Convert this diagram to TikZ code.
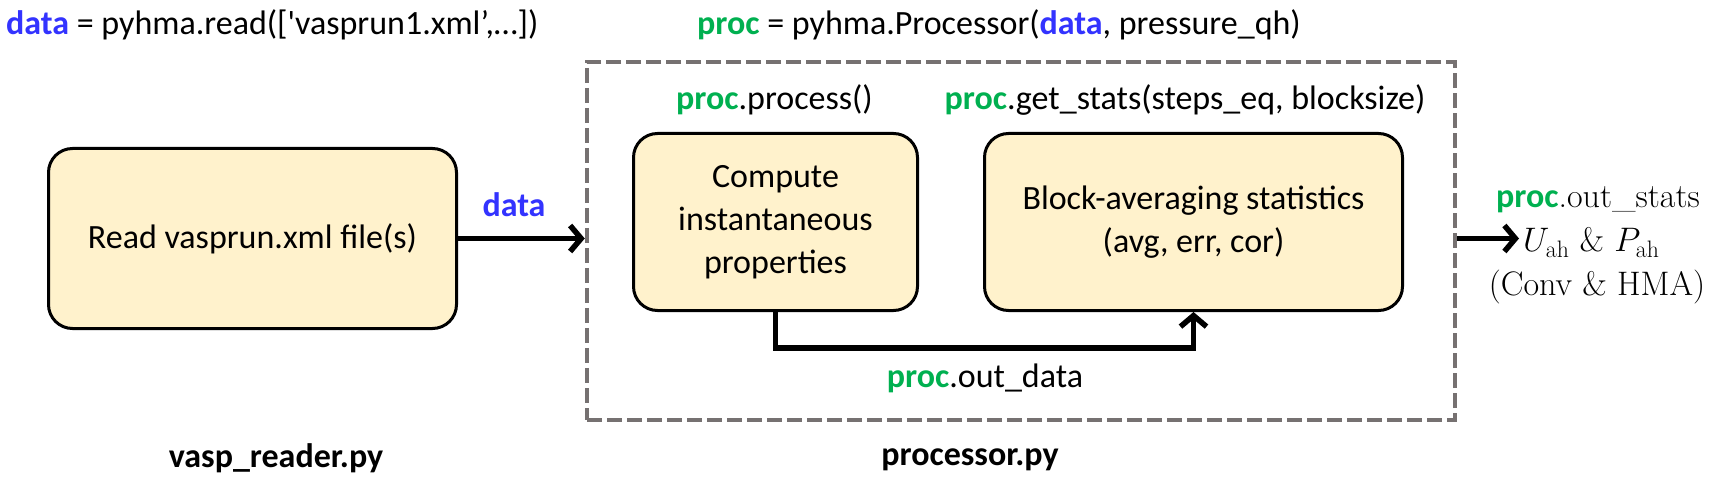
\RequirePackage{fix-cm}
\documentclass[tikz,border=0pt]{standalone}
\usepackage{fontspec}
\setsansfont{Carlito}
\usepackage{amsmath}
\usepackage{tikz}
\usetikzlibrary{arrows.meta,positioning}

\definecolor{procgreen}{RGB}{0,176,80}
\definecolor{datablue}{RGB}{51,51,255}
\definecolor{boxfill}{RGB}{255,242,204}
\definecolor{framegray}{RGB}{118,113,113}
\newcommand{\procname}{\textcolor{procgreen}{\bfseries proc}}
\newcommand{\dataname}{\textcolor{datablue}{\bfseries data}}

\begin{document}
\begin{tikzpicture}
[
x=1pt, y=-1pt,
font=\sffamily\fontsize{34}{43}\selectfont,
stage/.style={rectangle, rounded corners=24pt, draw=black, line width=3pt, fill=boxfill, align=center, inner sep=0pt},
procframe/.style={rectangle, draw=framegray, line width=4.5pt, dash pattern=on 15pt off 5pt, inner sep=0pt},
codetxt/.style={inner sep=0pt},
filetxt/.style={inner sep=0pt, font=\sffamily\bfseries\fontsize{34}{43}\selectfont},
flow/.style={line width=5.5pt, -{Straight Barb[length=11pt,width=26pt]}}
]
\useasboundingbox (0,0) rectangle (1717,481);

%Boxes
\node[stage, minimum width=408pt, minimum height=180pt] (read)    at (252.5,238.5) {Read vasprun.xml file(s)};
\node[stage, minimum width=284pt, minimum height=177pt] (compute) at (775.5,222)   {Compute\\instantaneous\\properties};
\node[stage, minimum width=418pt, minimum height=177pt] (block)   at (1193.5,222)  {Block-averaging statistics\\(avg, err, cor)};
\node[procframe, minimum width=868pt, minimum height=358pt] (frame) at (1021,241) {};

%Code lines
\node[codetxt, anchor=base west] (readcall) at (6,35)   {\dataname{} = pyhma.read([\textquotesingle vasprun1.xml’,…])};
\node[codetxt, anchor=base west] (proccall) at (697,35) {\procname{} = pyhma.Processor(\dataname, pressure\_qh)};
\node[codetxt, anchor=base] (procstep) at (774.5,110) {\procname.process()};
\node[codetxt, anchor=base] (statstep) at (1185,110)  {\procname.get\_stats(steps\_eq, blocksize)};
\node[codetxt, anchor=base] (datalbl)  at (514,217)   {\dataname};
\node[codetxt, anchor=base] (outdata)  at (985,387)   {\procname.out\_data};

%Outputs
\node[codetxt, anchor=base] (outstats) at (1598,208) {\procname{\rmfamily.out\_stats}};
\node[codetxt, anchor=base west, inner xsep=4pt] (uah) at (1519,252) {\rmfamily$U_{\mathrm{ah}}$ \& $P_{\mathrm{ah}}$};
\node[codetxt, anchor=base] (convhma)  at (1597,295) {\rmfamily(Conv \& HMA)};

%Files
\node[filetxt, anchor=base] (readerfile) at (276,467) {vasp\_reader.py};
\node[filetxt, anchor=base] (procfile)   at (970,465) {processor.py};

%Lines
\draw[flow] (read.east) -- (read.east -| frame.west);
\draw[flow] (compute.south) -- ++(0,36) -| (block.south);
\draw[flow] (frame.east |- read.east) -- (uah.west |- read.east);
\end{tikzpicture}
\end{document}
